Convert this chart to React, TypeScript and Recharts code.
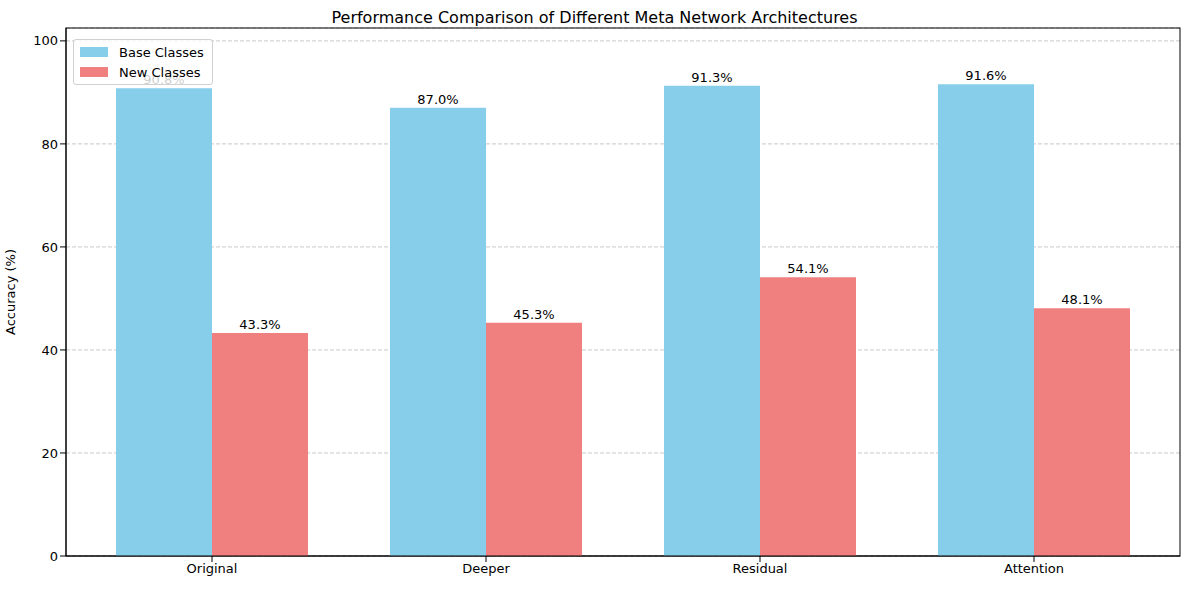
import { BarChart, Bar, XAxis, YAxis, CartesianGrid, LabelList } from "recharts";

const categories = ["Original", "Deeper", "Residual", "Attention"];
const baseClasses = [90.8, 87.0, 91.3, 91.6];
const newClasses = [43.3, 45.3, 54.1, 48.1];
const yTicks = [0, 20, 40, 60, 80, 100];

const data = categories.map((name, i) => ({ name, base: baseClasses[i], novel: newClasses[i] }));

const font = "DejaVu Sans, sans-serif";

export default function App() {
  return (
    <div style={{ position: "absolute", left: 0, top: 0, width: 1189, height: 590, background: "#fff", fontFamily: font }}>
      <div style={{ position: "absolute", top: 8, width: 1189, textAlign: "center", fontSize: 16 }}>
        Performance Comparison of Different Meta Network Architectures
      </div>
      <BarChart
        width={1189}
        height={590}
        data={data}
        margin={{ top: 28, right: 9, left: 0, bottom: 0 }}
        barCategoryGap={41}
        barGap={0}
      >
        <CartesianGrid vertical={false} stroke="#c8c8c8" strokeDasharray="4 2" />
        <XAxis
          dataKey="name"
          height={34}
          padding={{ left: 9, right: 9 }}
          tick={{ fontSize: 13, fill: "#000", fontFamily: font }}
          tickLine={{ stroke: "#000" }}
          axisLine={{ stroke: "#000" }}
        />
        <YAxis
          width={66}
          domain={[0, 102.5]}
          ticks={yTicks}
          tick={{ fontSize: 13, fill: "#000", fontFamily: font }}
          tickLine={{ stroke: "#000" }}
          axisLine={{ stroke: "#000" }}
          label={{ value: "Accuracy (%)", angle: -90, position: "insideLeft", offset: 10, style: { fontSize: 13, fill: "#000", fontFamily: font, textAnchor: "middle" } }}
        />
        <Bar dataKey="base" fill="#87ceeb" isAnimationActive={false}>
          <LabelList dataKey="base" position="top" offset={4} formatter={(v: any) => `${Number(v).toFixed(1)}%`} style={{ fontSize: 13, fill: "#000", fontFamily: font }} />
        </Bar>
        <Bar dataKey="novel" fill="#f08080" isAnimationActive={false}>
          <LabelList dataKey="novel" position="top" offset={4} formatter={(v: any) => `${Number(v).toFixed(1)}%`} style={{ fontSize: 13, fill: "#000", fontFamily: font }} />
        </Bar>
        <rect x={66} y={28} width={1114} height={528} fill="none" stroke="#000" />
      </BarChart>
      <div
        style={{
          position: "absolute", left: 73, top: 39, width: 140, height: 46,
          background: "rgba(255,255,255,0.8)", border: "1px solid #d0d0d0", borderRadius: 3,
          fontSize: 13, boxSizing: "border-box", padding: "2px 6px", whiteSpace: "nowrap",
        }}
      >
        {[["Base Classes", "#87ceeb"], ["New Classes", "#f08080"]].map(([t, c]) => (
          <div key={t} style={{ display: "flex", alignItems: "center", height: 20 }}>
            <span style={{ display: "inline-block", width: 28, height: 10, background: c, marginRight: 11, flexShrink: 0 }} />
            {t}
          </div>
        ))}
      </div>
    </div>
  );
}
